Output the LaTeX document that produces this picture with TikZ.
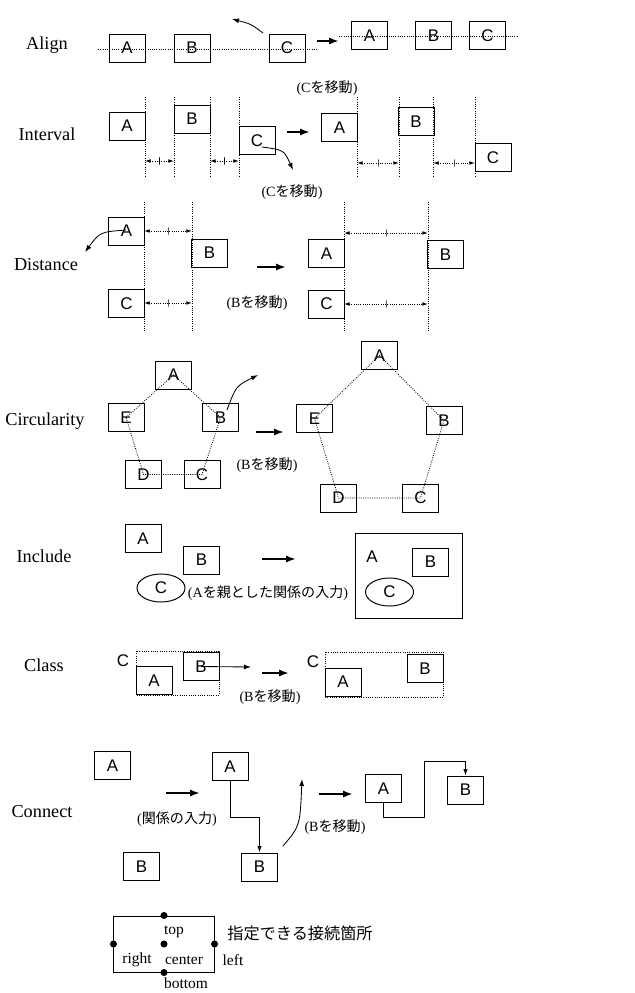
\documentclass[tikz,border=0pt]{standalone}
\usepackage{fontspec}
\setmainfont{Liberation Serif}
\setsansfont{Liberation Sans}
\newfontfamily\jp{Noto Sans CJK JP}
\usetikzlibrary{arrows.meta,shapes.geometric}

\tikzset{
  obj/.style={draw, line width=0.7pt, minimum width=0.9cm, minimum height=0.7cm,
    inner sep=0pt, font=\sffamily\fontsize{12}{12}\selectfont},
  oval/.style={obj, ellipse, minimum width=1.2cm, minimum height=0.7cm},
  rowlbl/.style={font=\fontsize{13}{13}\selectfont},
  remark/.style={font=\fontsize{10}{10}\selectfont},
  letter/.style={font=\sffamily\fontsize{12}{12}\selectfont},
  guide/.style={densely dotted, line width=0.6pt},
  gaparr/.style={guide, {Latex[length=4pt,width=2.6pt]}-{Latex[length=4pt,width=2.6pt]}},
  tick/.style={draw, solid, line width=0.5pt, minimum width=0pt, minimum height=5pt,
    inner sep=0pt, outer sep=0pt},
  bigarr/.style={line width=1.8pt, -{Latex[length=7pt,width=5pt]}},
  drag/.style={line width=0.6pt, -{Latex[length=5pt,width=3.5pt]}},
  link/.style={line width=0.6pt, -{Latex[length=4.5pt,width=3pt]}},
  keytext/.style={font=\fontsize{11}{11}\selectfont},
}

\begin{document}
\begin{tikzpicture}[x=0.025cm,y=-0.025cm]
\useasboundingbox (0,0) rectangle (634,993);

% ---- Align
\node[rowlbl] (align) at (47,45) {Align};
\draw[guide] (98,49) -- (317,49);
\node[obj] (alA) at (127,48) {A};
\node[obj] (alB) at (192,48) {B};
\node[obj] (alC) at (287,48) {C};
\coordinate (alFrom) at (263,33);
\coordinate (alTo) at (232,19);
\draw[drag] (alFrom) .. controls (251,24) .. (alTo);
\draw[bigarr] (317,41) -- (339,41);
\draw[guide] (339,36) -- (517,36);
\node[obj] (alA2) at (369.5,35.5) {A};
\node[obj] (alB2) at (433.5,35.5) {B};
\node[obj] (alC2) at (487.5,35.5) {C};
\node[remark] (alNote) at (327,88) {(C{\jp を移動})};

% ---- Interval
\node[rowlbl] (interval) at (47,134) {Interval};
\foreach \x in {145,174,210,239,357,399,433,475}
  \draw[guide] (\x,97) -- (\x,177);
\node[obj] (ivA) at (127,126) {A};
\node[obj] (ivB) at (192,119) {B};
\node[obj] (ivC) at (257,140.5) {C};
\draw[gaparr] (145,161) -- node[tick]{} (174,161);
\draw[gaparr] (210,161) -- node[tick]{} (239,161);
\coordinate (ivFrom) at (262,147);
\coordinate (ivTo) at (293,170);
\draw[drag] (ivFrom) .. controls (284,150) .. (ivTo);
\draw[bigarr] (287,132) -- (310,132);
\node[remark] (ivNote) at (292,192) {(C{\jp を移動})};
\node[obj] (ivA2) at (339.5,127.5) {A};
\node[obj] (ivB2) at (416,121.5) {B};
\node[obj] (ivC2) at (493,157.5) {C};
\draw[gaparr] (357,163) -- node[tick]{} (399,163);
\draw[gaparr] (433,163) -- node[tick]{} (475,163);

% ---- Distance
\node[rowlbl] (distance) at (46,265) {Distance};
\foreach \x in {144,192,344,428}
  \draw[guide] (\x,202) -- (\x,332);
\node[obj] (dsA) at (126.5,231) {A};
\node[obj] (dsB) at (209.5,253) {B};
\node[obj] (dsC) at (126.5,303.5) {C};
\draw[gaparr] (144,231) -- node[tick]{} (192,231);
\draw[gaparr] (144,303) -- node[tick]{} (192,303);
\coordinate (dsFrom) at (126,230);
\coordinate (dsTo) at (85,252);
\draw[drag] (dsFrom) .. controls (100,232) .. (dsTo);
\draw[bigarr] (257,267) -- (286,267);
\node[remark] (dsNote) at (257,303) {(B{\jp を移動})};
\node[obj] (dsA2) at (326.5,253.5) {A};
\node[obj] (dsB2) at (445.5,254.5) {B};
\node[obj] (dsC2) at (326.5,304) {C};
\draw[gaparr] (344,233) -- node[tick]{} (428,233);
\draw[gaparr] (344,304) -- node[tick]{} (428,304);

% ---- Circularity
\node[rowlbl] (circ) at (45,421) {Circularity};
\node[obj] (crA) at (173.5,375) {A};
\node[obj] (crE) at (126,417.5) {E};
\node[obj] (crB) at (220.5,417.5) {B};
\node[obj] (crD) at (143.5,474.5) {D};
\node[obj] (crC) at (202,474.5) {C};
\draw[guide] (crE.center) -- (crA.center) -- (crB.center) -- (crC.center)
  -- (crD.center) -- (crE.center);
\coordinate (crFrom) at (227,410);
\coordinate (crTo) at (258,375);
\draw[drag] (crFrom) .. controls (236,386) .. (crTo);
\draw[bigarr] (256,432) -- (284,432);
\node[remark] (crNote) at (267,465) {(B{\jp を移動})};
\node[obj] (crA2) at (379.5,355.5) {A};
\node[obj] (crE2) at (314.5,418.5) {E};
\node[obj] (crB2) at (444,420.5) {B};
\node[obj] (crD2) at (338.5,498) {D};
\node[obj] (crC2) at (420.5,498) {C};
\draw[guide] (crE2.center) -- (crA2.center) -- (crB2.center) -- (crC2.center)
  -- (crD2.center) -- (crE2.center);

% ---- Include
\node[rowlbl] (include) at (44,556) {Include};
\node[obj] (inA) at (143,538.5) {A};
\node[obj] (inB) at (201.5,560) {B};
\node[oval] (inC) at (161,588) {C};
\draw[bigarr] (262,559) -- (296,559);
\node[remark] (inNote) at (268,593) {(A{\jp を親とした関係の入力})};
\node[obj, minimum width=2.65cm, minimum height=2.125cm] (inA2) at (409,575.5) {};
\node[letter] (inAlbl) at (372,557) {A};
\node[obj] (inB2) at (430.5,562) {B};
\node[oval] (inC2) at (389.5,592) {C};

% ---- Class
\node[rowlbl] (class) at (44,665) {Class};
\draw[guide] (136,651) rectangle (219,695);
\node[letter] (clClbl) at (123,661) {C};
\node[obj] (clA) at (154,680.5) {A};
\node[obj] (clB) at (201,666.5) {B};
\coordinate (clTo) at (251,667);
\draw[drag] (clB.center) -- (clTo);
\draw[bigarr] (262,673) -- (289,673);
\node[remark] (clNote) at (270,697) {(B{\jp を移動})};
\draw[guide] (325,652) rectangle (443,697);
\node[letter] (clClbl2) at (313,662) {C};
\node[obj] (clA2) at (343,682) {A};
\node[obj] (clB2) at (425,668.5) {B};

% ---- Connect
\node[rowlbl] (connect) at (42,812) {Connect};
\node[obj] (cnA) at (112.5,765.5) {A};
\node[obj] (cnB) at (141.5,866.5) {B};
\draw[bigarr] (166,793) -- (200,793);
\node[remark] (cnNote) at (177,819) {({\jp 関係の入力})};
\node[obj] (cnA2) at (230,766.5) {A};
\node[obj] (cnB2) at (259.5,867) {B};
\draw[link] (cnA2.south) |- (259.5,817) -- (cnB2.north);
\coordinate (cnFrom) at (283,846);
\coordinate (cnTo) at (302,779);
\draw[drag] (cnFrom) .. controls (300,826) .. (cnTo);
\draw[bigarr] (319,794) -- (353,794);
\node[remark] (cnNote2) at (335,827) {(B{\jp を移動})};
\node[obj] (cnA3) at (383.5,788.5) {A};
\node[obj] (cnB3) at (465.5,790) {B};
\draw[link] (cnA3.south) |- (424,817) |- (465.5,761) -- (cnB3.north);

% ---- anchor points
\node[draw, line width=0.7pt, minimum width=2.5cm, minimum height=1.4cm] (key) at (164,944) {};
\foreach \p in {north,west,east,center,south}
  \fill (key.\p) circle (2.5pt);
\node[keytext] (ktop) at (174,932) {top};
\node[keytext] (kright) at (137,960) {right};
\node[keytext] (kcenter) at (184,960) {center};
\node[keytext] (kleft) at (233,960) {left};
\node[keytext] (kbottom) at (186,983) {bottom};
\node[font=\jp\fontsize{11.5}{11.5}\selectfont] (kcap) at (300,933) {指定できる接続箇所};
\end{tikzpicture}
\end{document}
